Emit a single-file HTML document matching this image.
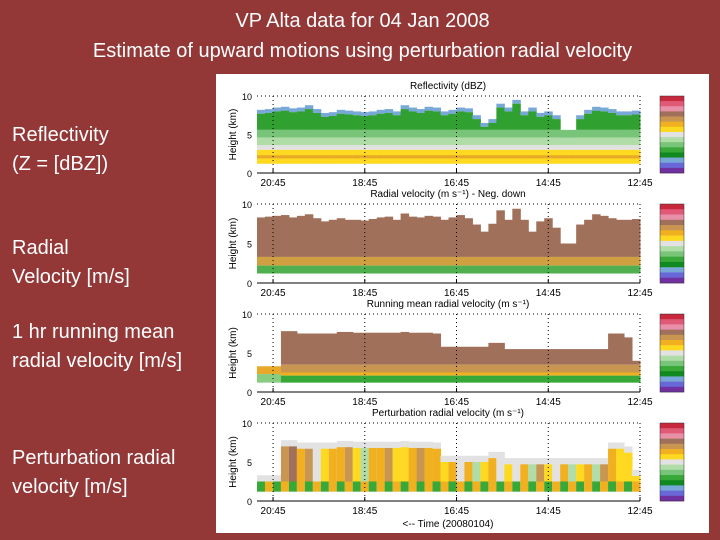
<!DOCTYPE html>
<html><head><meta charset="utf-8"><style>
body{margin:0;width:720px;height:540px;background:#933737;overflow:hidden;font-family:"Liberation Sans",sans-serif;position:relative}
.t{position:absolute;color:#fff;white-space:nowrap}
</style></head><body>
<div class="t" style="left:0;width:725px;text-align:center;top:10px;font-size:20px">VP Alta data for 04 Jan 2008</div>
<div class="t" style="left:0;width:725px;text-align:center;top:40px;font-size:20px">Estimate of upward motions using perturbation radial velocity</div>
<div class="t" style="left:12px;top:121px;font-size:20px;line-height:29px">Reflectivity<br>(Z = [dBZ])</div>
<div class="t" style="left:12px;top:234px;font-size:20px;line-height:29px">Radial<br>Velocity [m/s]</div>
<div class="t" style="left:12px;top:318px;font-size:20px;line-height:29px">1 hr running mean<br>radial velocity [m/s]</div>
<div class="t" style="left:12px;top:444px;font-size:20px;line-height:29px">Perturbation radial<br>velocity [m/s]</div>
<svg id="fig" style="position:absolute;left:216px;top:74px" width="493" height="459" viewBox="216 74 493 459"></svg>
<script>
const tickLabels=["20:45","18:45","16:45","14:45","12:45"];
const tickTimes=[20.75,18.75,16.75,14.75,12.75];
const yTicks=[0,5,10];
const reflTops=[8.2,8.3,8.5,8.6,8.4,8.5,8.8,8.3,7.8,7.9,8.2,8.1,8.0,7.9,8.0,8.2,8.3,8.0,8.8,8.5,8.3,8.6,8.5,8.0,8.2,8.5,8.4,7.5,6.5,7.0,9.0,8.5,9.5,8.0,8.5,7.8,8.0,7.5,5.0,5.0,7.5,8.2,8.6,8.5,8.3,8.0,8.0,8.1];
const velTops=[8.3,8.4,8.5,8.6,8.3,8.5,8.7,8.2,7.8,8.0,8.2,8.0,8.0,7.9,8.1,8.3,8.4,8.0,8.8,8.4,8.3,8.5,8.4,8.0,8.3,8.6,8.2,7.4,6.5,7.5,9.2,8.0,9.4,8.0,6.5,7.8,8.2,7.0,5.0,5.0,7.4,8.0,8.7,8.5,8.2,8.0,8.0,8.1];
const meanTops=[3.3,3.3,3.3,7.8,7.8,7.5,7.5,7.5,7.5,7.5,7.7,7.7,7.6,7.6,7.6,7.6,7.6,7.6,7.7,7.6,7.6,7.6,7.5,5.8,5.8,5.8,5.8,5.8,5.8,6.3,6.3,5.5,5.5,5.5,5.5,5.5,5.5,5.5,5.5,5.5,5.5,5.5,5.5,5.5,7.5,7.5,7.0,4.0];
const pertVals=[-2,1,0,2,3,1,2,-1,0,1,1,2,0,-2,1,1,2,0,0,1,2,1,1,0,1,-1,1,-2,0,1,-1,0,-1,1,-2,2,0,-1,1,-2,0,1,-2,2,1,0,0,0];
const NS="http://www.w3.org/2000/svg",fig=document.getElementById('fig');
const cols=["#c8283c","#e05a78","#e890a8","#a0705a","#c89650","#f0b020","#ffd820","#e2e2e2","#b0dca8","#78c478","#38a838","#108a20","#78a8d8","#6868d8","#7030a0"];
function el(t,a,p){const e=document.createElementNS(NS,t);for(const k in a)e.setAttribute(k,a[k]);(p||fig).appendChild(e);return e;}
el('rect',{x:216,y:74,width:493,height:459,fill:'#fff'});
const X0=257,X1=640;
const xs=t=>X0+(X1-X0)*(21.1-t)/(21.1-12.75);
function panel(y10,y0,title,tops,kind,name){
  const g=el('g',{});
  
  
  const ys=v=>y0+(y10-y0)*v/10;
  const n=tops.length,w=(X1-X0)/n;
  tops.forEach((top,i)=>{
    const x=X0+i*w;
    let layers;
    if(kind==='refl')layers=[[top,top-0.5,'#78a8d8'],[top-0.5,5.6,'#30a030'],[5.6,4.6,'#78c478'],[4.6,3.6,'#b0dca8'],[3.6,3,'#e2e2e2'],[3,1.2,'#ffd820'],[2.3,1.9,'#e8a828']];
    else if(kind==='vel')layers=[[top,3.3,'#a0705a'],[3.3,2.2,'#d0a040'],[2.2,1.2,'#50b050']];
    else if(kind==='mean')layers=top<4?[[top,2.3,'#e8a828'],[2.3,1.2,'#88cc80']]:[[top,3.5,'#a0705a'],[3.5,2.5,'#c89650'],[2.5,2.1,'#f0b020'],[2.1,1.2,'#38a838']];
    else{const v=pertVals[i];const c=cols[Math.max(0,Math.min(14,6-v))];layers=[[top,1.2,'#e2e2e2'],[top-0.8,2.5,c],[2.5,1.2,i%2?'#f0b020':'#38a838']];}
    layers.forEach(L=>{const r=el('rect',{x:x,y:ys(L[0]),width:w+0.5,height:Math.max(0,ys(L[1])-ys(L[0])),fill:L[2]},g);});
  });
  el('line',{x1:X0,y1:y0,x2:X1,y2:y0,stroke:'#000','stroke-width':1},g);
  tickTimes.forEach((t,k)=>{const x=xs(t);
    el('line',{x1:x,y1:y10,x2:x,y2:y0,stroke:'#000','stroke-dasharray':'1,3','stroke-width':1},g);
    el('line',{x1:x,y1:y0,x2:x,y2:y0-4,stroke:'#000'},g);
    const tx=el('text',{x:x,y:y0+13,'font-size':10,'text-anchor':'middle',fill:'#000'},g);tx.textContent=tickLabels[k];});
  yTicks.forEach(v=>{const tx=el('text',{x:X0-5,y:ys(v)+4,'font-size':9,'text-anchor':'end',fill:'#000'},g);tx.textContent=v;});
  el('line',{x1:X0,y1:y10,x2:X1,y2:y10,stroke:'#000','stroke-dasharray':'1,3'},g);
  const yl=el('text',{x:236,y:(y0+y10)/2,'font-size':10,'text-anchor':'middle',transform:`rotate(-90 236 ${(y0+y10)/2})`},g);yl.textContent='Height (km)';
  const tt=el('text',{x:448,y:y10-7,'font-size':10,'text-anchor':'middle'},g);tt.textContent=title;
  const ch=(y0-y10)/cols.length;
  cols.forEach((c,k)=>{const r=el('rect',{x:660,y:y10+k*ch,width:24,height:ch+0.3,fill:c},g);});
  el('rect',{x:660,y:y10,width:24,height:y0-y10,fill:'none',stroke:'#333','stroke-width':0.5},g);
}
panel(96,173,'Reflectivity (dBZ)',reflTops,'refl','panel-reflectivity');
panel(204,283,'Radial velocity (m s⁻¹) - Neg. down',velTops,'vel','panel-radial-velocity');
panel(314,392,'Running mean radial velocity (m s⁻¹)',meanTops,'mean','panel-running-mean');
panel(423,501,'Perturbation radial velocity (m s⁻¹)',meanTops,'pert','panel-perturbation');
const xl=el('text',{x:448,y:527,'font-size':10,'text-anchor':'middle'});xl.textContent='<-- Time (20080104)';


</script>
</body></html>
